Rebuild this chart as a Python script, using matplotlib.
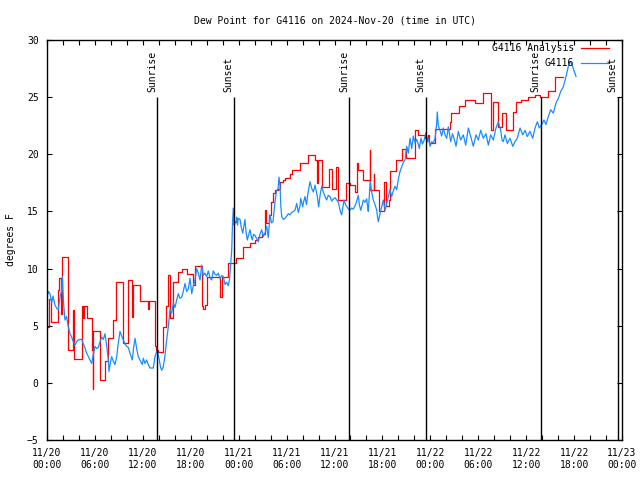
import matplotlib
matplotlib.use("Agg")
import matplotlib.pyplot as plt
import numpy as np

plt.rcParams['font.family'] = ['DejaVu Sans Mono']
plt.rcParams['font.size'] = 7

title = "Dew Point for G4116 on 2024-Nov-20 (time in UTC)"
ylabel = "degrees F"
series_names = ["G4116 Analysis", "G4116"]

# hours since 2024-11-20 00:00 UTC
tick_hours = [0, 6, 12, 18, 24, 30, 36, 42, 48, 54, 60, 66, 72]
tick_labels = ["11/20\n00:00", "11/20\n06:00", "11/20\n12:00", "11/20\n18:00",
               "11/21\n00:00", "11/21\n06:00", "11/21\n12:00", "11/21\n18:00",
               "11/22\n00:00", "11/22\n06:00", "11/22\n12:00", "11/22\n18:00",
               "11/23\n00:00"]

sun_hours = [13.81, 23.45, 37.85, 47.46, 61.86, 71.46]
sun_labels = ["Sunrise", "Sunset", "Sunrise", "Sunset", "Sunrise", "Sunset"]

# Analysis (step series)
anal_hours = [0.00, 0.25, 0.50, 1.34, 1.55, 1.70, 1.92, 2.59, 3.29, 3.42,
              4.35, 4.55, 4.65, 4.97, 5.63, 5.70, 5.80, 6.64, 7.26, 7.68,
              8.30, 8.60, 9.55, 10.10, 10.68, 10.80, 11.65, 12.65, 12.78, 13.52,
              13.70, 13.94, 14.49, 14.84, 15.17, 15.40, 15.82, 16.44, 16.87, 17.49,
              18.32, 18.53, 19.37, 19.57, 19.78, 20.00, 21.66, 21.88, 22.70, 23.70,
              24.57, 25.42, 26.05, 26.46, 26.88, 27.30, 27.40, 27.80, 28.11, 28.25,
              28.55, 28.93, 29.18, 29.59, 29.80, 30.43, 30.64, 31.68, 32.68, 33.56,
              33.75, 33.90, 34.40, 35.25, 35.65, 36.15, 36.48, 37.40, 37.94, 38.57,
              38.82, 38.95, 39.61, 40.40, 40.50, 40.90, 41.00, 41.55, 42.25, 42.40,
              42.85, 43.00, 43.70, 44.50, 44.95, 46.08, 46.49, 47.32, 47.75, 47.88,
              48.60, 50.45, 50.65, 51.60, 52.40, 53.55, 54.55, 55.55, 55.90, 56.50,
              56.95, 57.50, 58.32, 58.70, 59.35, 60.25, 61.10, 61.70, 62.75, 63.60,
              64.60]
anal_vals = [4.9, 7.3, 5.3, 8.1, 9.2, 6.0, 11.0, 2.9, 6.4, 2.1,
             6.7, 5.7, 6.7, 5.65, 2.9, -0.5, 4.5, 0.25, 1.9, 3.9,
             5.5, 8.85, 3.5, 9.0, 5.8, 8.6, 7.2, 6.5, 7.2, 3.2,
             2.9, 2.7, 4.9, 6.7, 9.4, 5.65, 8.85, 9.7, 9.95, 9.5,
             8.6, 10.2, 6.7, 6.5, 6.8, 9.25, 7.55, 9.3, 10.45, 10.9,
             11.9, 12.2, 12.5, 12.8, 13.0, 15.1, 13.95, 14.7, 15.85, 16.6,
             16.9, 17.0, 17.6, 17.75, 17.9, 18.3, 18.6, 19.2, 19.9, 19.5,
             17.45, 19.5, 17.1, 18.7, 17.0, 18.9, 16.0, 17.45, 17.3, 16.7,
             19.2, 18.6, 17.75, 20.4, 16.9, 18.3, 16.9, 15.0, 17.6, 15.5,
             16.0, 18.5, 19.5, 20.5, 19.65, 22.1, 21.7, 21.4, 21.7, 21.0,
             22.2, 22.85, 23.6, 24.2, 24.75, 24.5, 25.4, 22.1, 24.6, 22.4,
             23.6, 22.1, 23.7, 24.6, 24.75, 25.0, 25.2, 25.0, 25.5, 26.8,
             26.8]

# Observations
obs_hours = [0.00, 0.19, 0.38, 0.59, 0.75, 1.00, 1.25, 1.42, 1.63, 1.84,
             1.92, 2.07, 2.25, 2.44, 2.67, 2.88, 3.09, 3.29, 3.51, 3.72,
             3.92, 4.13, 4.35, 4.55, 4.76, 4.97, 5.17, 5.38, 5.60, 5.80,
             6.01, 6.22, 6.42, 6.64, 6.85, 7.05, 7.26, 7.48, 7.68, 7.76,
             7.95, 8.10, 8.30, 8.51, 8.73, 8.93, 9.14, 9.35, 9.55, 9.77,
             9.98, 10.18, 10.39, 10.68, 10.83, 11.02, 11.23, 11.43, 11.65, 11.93,
             12.06, 12.27, 12.48, 12.68, 12.90, 13.11, 13.31, 13.52, 13.81, 13.94,
             14.06, 14.21, 14.36, 14.56, 14.74, 14.90, 15.06, 15.19, 15.40, 15.61,
             15.82, 16.03, 16.24, 16.44, 16.65, 16.87, 17.07, 17.28, 17.49, 17.69,
             17.91, 18.12, 18.32, 18.53, 18.75, 18.95, 19.16, 19.37, 19.57, 19.78,
             20.00, 20.20, 20.41, 20.62, 20.82, 21.04, 21.25, 21.45, 21.66, 21.88,
             22.08, 22.29, 22.50, 22.70, 22.85, 22.98, 23.13, 23.23, 23.33, 23.44,
             23.54, 23.67, 23.75, 23.85, 23.95, 24.17, 24.33, 24.51, 24.67, 24.79,
             24.92, 25.08, 25.23, 25.42, 25.58, 25.71, 25.86, 26.05, 26.26, 26.46,
             26.67, 26.88, 27.09, 27.30, 27.51, 27.71, 27.92, 28.11, 28.30, 28.55,
             28.74, 28.93, 29.05, 29.18, 29.28, 29.39, 29.59, 29.80, 30.02, 30.22,
             30.43, 30.64, 30.84, 31.05, 31.27, 31.47, 31.68, 31.77, 32.02, 32.12,
             32.31, 32.49, 32.68, 32.93, 33.15, 33.35, 33.56, 33.85, 34.02, 34.19,
             34.40, 34.60, 34.81, 35.02, 35.22, 35.44, 35.65, 35.85, 36.06, 36.28,
             36.48, 36.60, 36.73, 36.90, 37.07, 37.19, 37.38, 37.57, 37.75, 37.94,
             38.15, 38.36, 38.57, 38.69, 38.82, 38.98, 39.11, 39.28, 39.44, 39.61,
             39.82, 40.03, 40.13, 40.23, 40.38, 40.48, 40.63, 40.86, 41.07, 41.29,
             41.39, 41.49, 41.70, 41.91, 42.11, 42.33, 42.54, 42.74, 42.95, 43.16,
             43.36, 43.58, 43.79, 43.99, 44.20, 44.42, 44.62, 44.83, 45.04, 45.24,
             45.46, 45.67, 45.87, 46.08, 46.29, 46.49, 46.62, 46.83, 47.02, 47.21,
             47.46, 47.64, 47.77, 47.96, 48.17, 48.37, 48.59, 48.71, 48.80, 48.87,
             49.00, 49.21, 49.42, 49.62, 49.84, 50.05, 50.25, 50.55, 50.78, 51.00,
             51.22, 51.50, 51.80, 52.13, 52.43, 52.76, 53.06, 53.38, 53.72, 54.01,
             54.31, 54.64, 54.97, 55.26, 55.56, 55.89, 56.22, 56.51, 56.81, 56.98,
             57.14, 57.35, 57.64, 57.98, 58.32, 58.60, 58.89, 59.23, 59.57, 59.86,
             60.14, 60.48, 60.82, 61.11, 61.40, 61.65, 61.95, 62.23, 62.48, 62.77,
             63.07, 63.40, 63.74, 64.03, 64.33, 64.65, 64.99, 65.28, 65.49, 65.70,
             65.90, 66.24]
obs_vals = [7.5, 8.0, 7.8, 7.0, 7.6, 6.8, 6.5, 6.4, 7.5, 8.1,
            9.3, 7.0, 5.5, 5.8, 4.9, 4.3, 4.0, 3.6, 3.3, 3.6,
            3.75, 3.8, 3.8, 3.4, 3.05, 2.6, 2.3, 2.0, 1.7, 2.5,
            3.2, 3.0, 3.1, 3.6, 4.0, 3.8, 4.3, 3.2, 2.0, 1.0,
            1.8, 2.3, 1.9, 1.6, 2.3, 3.5, 4.5, 4.1, 3.75, 3.4,
            3.2, 3.1, 2.6, 2.0, 3.0, 3.9, 3.0, 2.3, 2.0, 1.6,
            2.15, 1.7, 2.0, 1.6, 1.3, 1.3, 1.3, 2.3, 2.9, 2.4,
            2.0, 1.4, 1.1, 1.4, 2.2, 3.2, 4.2, 4.9, 6.4, 6.1,
            7.0, 6.6, 7.25, 7.8, 7.4, 7.5, 8.0, 8.7, 8.0, 8.2,
            9.15, 7.8, 8.5, 9.0, 10.0, 9.6, 9.0, 10.3, 9.4, 9.6,
            9.3, 9.8, 9.2, 9.0, 9.8, 9.5, 9.4, 9.6, 9.1, 9.4,
            9.3, 8.6, 8.8, 8.5, 9.0, 10.2, 11.6, 14.0, 15.3, 13.8,
            14.1, 14.0, 14.5, 13.8, 14.4, 14.3, 13.6, 13.1, 13.8, 14.3,
            13.2, 12.5, 12.9, 13.4, 12.8, 12.5, 13.0, 12.9, 12.6, 12.35,
            13.0, 13.4, 12.8, 13.1, 13.7, 12.7, 14.7, 14.0, 14.1, 15.85,
            16.8, 17.0, 18.0, 17.2, 15.5, 14.55, 14.3, 14.4, 14.6, 14.8,
            14.7, 14.9, 15.0, 15.1, 15.7, 14.9, 15.5, 16.15, 15.4, 15.8,
            16.3, 15.6, 16.6, 17.6, 17.0, 16.7, 17.3, 16.3, 15.4, 16.4,
            17.2, 16.7, 16.3, 16.0, 16.4, 16.3, 15.9, 16.1, 16.2, 16.0,
            15.8, 15.4, 15.0, 14.7, 15.5, 16.0, 15.6, 15.4, 15.2, 15.1,
            15.3, 15.2, 15.5, 15.7, 16.0, 16.4, 15.6, 15.1, 15.5, 16.0,
            15.8, 16.1, 15.5, 15.0, 16.5, 17.6, 16.8, 16.0, 15.6, 15.1,
            14.5, 14.1, 14.8, 15.4, 16.0, 15.1, 15.7, 16.3, 16.9, 16.3,
            16.8, 17.2, 16.9, 17.8, 18.5, 18.9, 19.3, 19.5, 20.7, 20.1,
            21.4, 20.5, 21.6, 21.0, 21.3, 20.9, 20.5, 21.4, 20.9, 21.2,
            21.9, 21.1, 21.4, 20.7, 21.1, 21.0, 21.4, 22.1, 22.8, 23.7,
            22.5, 22.1, 21.6, 22.3, 21.7, 21.4, 22.4, 21.1, 21.8, 21.3,
            20.7, 22.0, 21.25, 21.7, 20.8, 22.3, 21.55, 20.7, 21.7, 21.25,
            22.1, 21.4, 21.8, 20.8, 21.7, 21.25, 22.3, 22.85, 22.1, 21.25,
            21.1, 21.7, 20.95, 21.4, 20.7, 21.1, 21.4, 22.3, 21.7, 22.1,
            21.55, 22.0, 21.4, 22.3, 22.85, 22.3, 22.6, 23.0, 22.6, 23.3,
            23.9, 23.6, 24.5, 24.9, 25.5, 25.9, 26.8, 27.7, 28.1, 27.95,
            27.5, 26.8]

red = "#ff0000"
blue = "#1a8cff"

fig = plt.figure(figsize=(6.4, 4.8), dpi=100)
ax = fig.add_axes([47/640, 40/480, 575/640, 400/480])

ax.plot(anal_hours, anal_vals, color=red, lw=0.9, drawstyle="steps-post")
ax.plot(obs_hours, obs_vals, color=blue, lw=0.9)

ax.vlines(sun_hours, -5, 25, color="black", lw=1.0)
for h, lab in zip(sun_hours, sun_labels):
    ax.text(h - 0.05, 25.45, lab, rotation=90, ha="right", va="bottom", fontsize=7)

ax.set_xlim(0, 72)
ax.set_ylim(-5, 30)
ax.set_xticks(tick_hours)
ax.set_xticklabels(tick_labels, linespacing=1.25)
ax.set_xticks(np.arange(0, 73, 2), minor=True)
ax.set_yticks(np.arange(-5, 31, 5))
ax.tick_params(which="both", direction="in", top=True, right=True, length=3.5, width=0.8)
ax.tick_params(axis="x", pad=6)
ax.tick_params(axis="y", pad=6)
for s in ax.spines.values():
    s.set_linewidth(1.0)

ax.set_title(title, fontsize=7, pad=12)
ax.set_ylabel(ylabel, fontsize=7, labelpad=8)

# legend (manual, right-aligned texts)
leg_y = [0.98, 0.9425]
for name, col, yy in zip(series_names, [red, blue], leg_y):
    ax.text(0.9165, yy, name, transform=ax.transAxes, ha="right", va="center", fontsize=7)
    ax.plot([0.9287, 0.9774], [yy, yy], transform=ax.transAxes, color=col, lw=0.9, clip_on=False)

fig.savefig("out.png", dpi=100)
